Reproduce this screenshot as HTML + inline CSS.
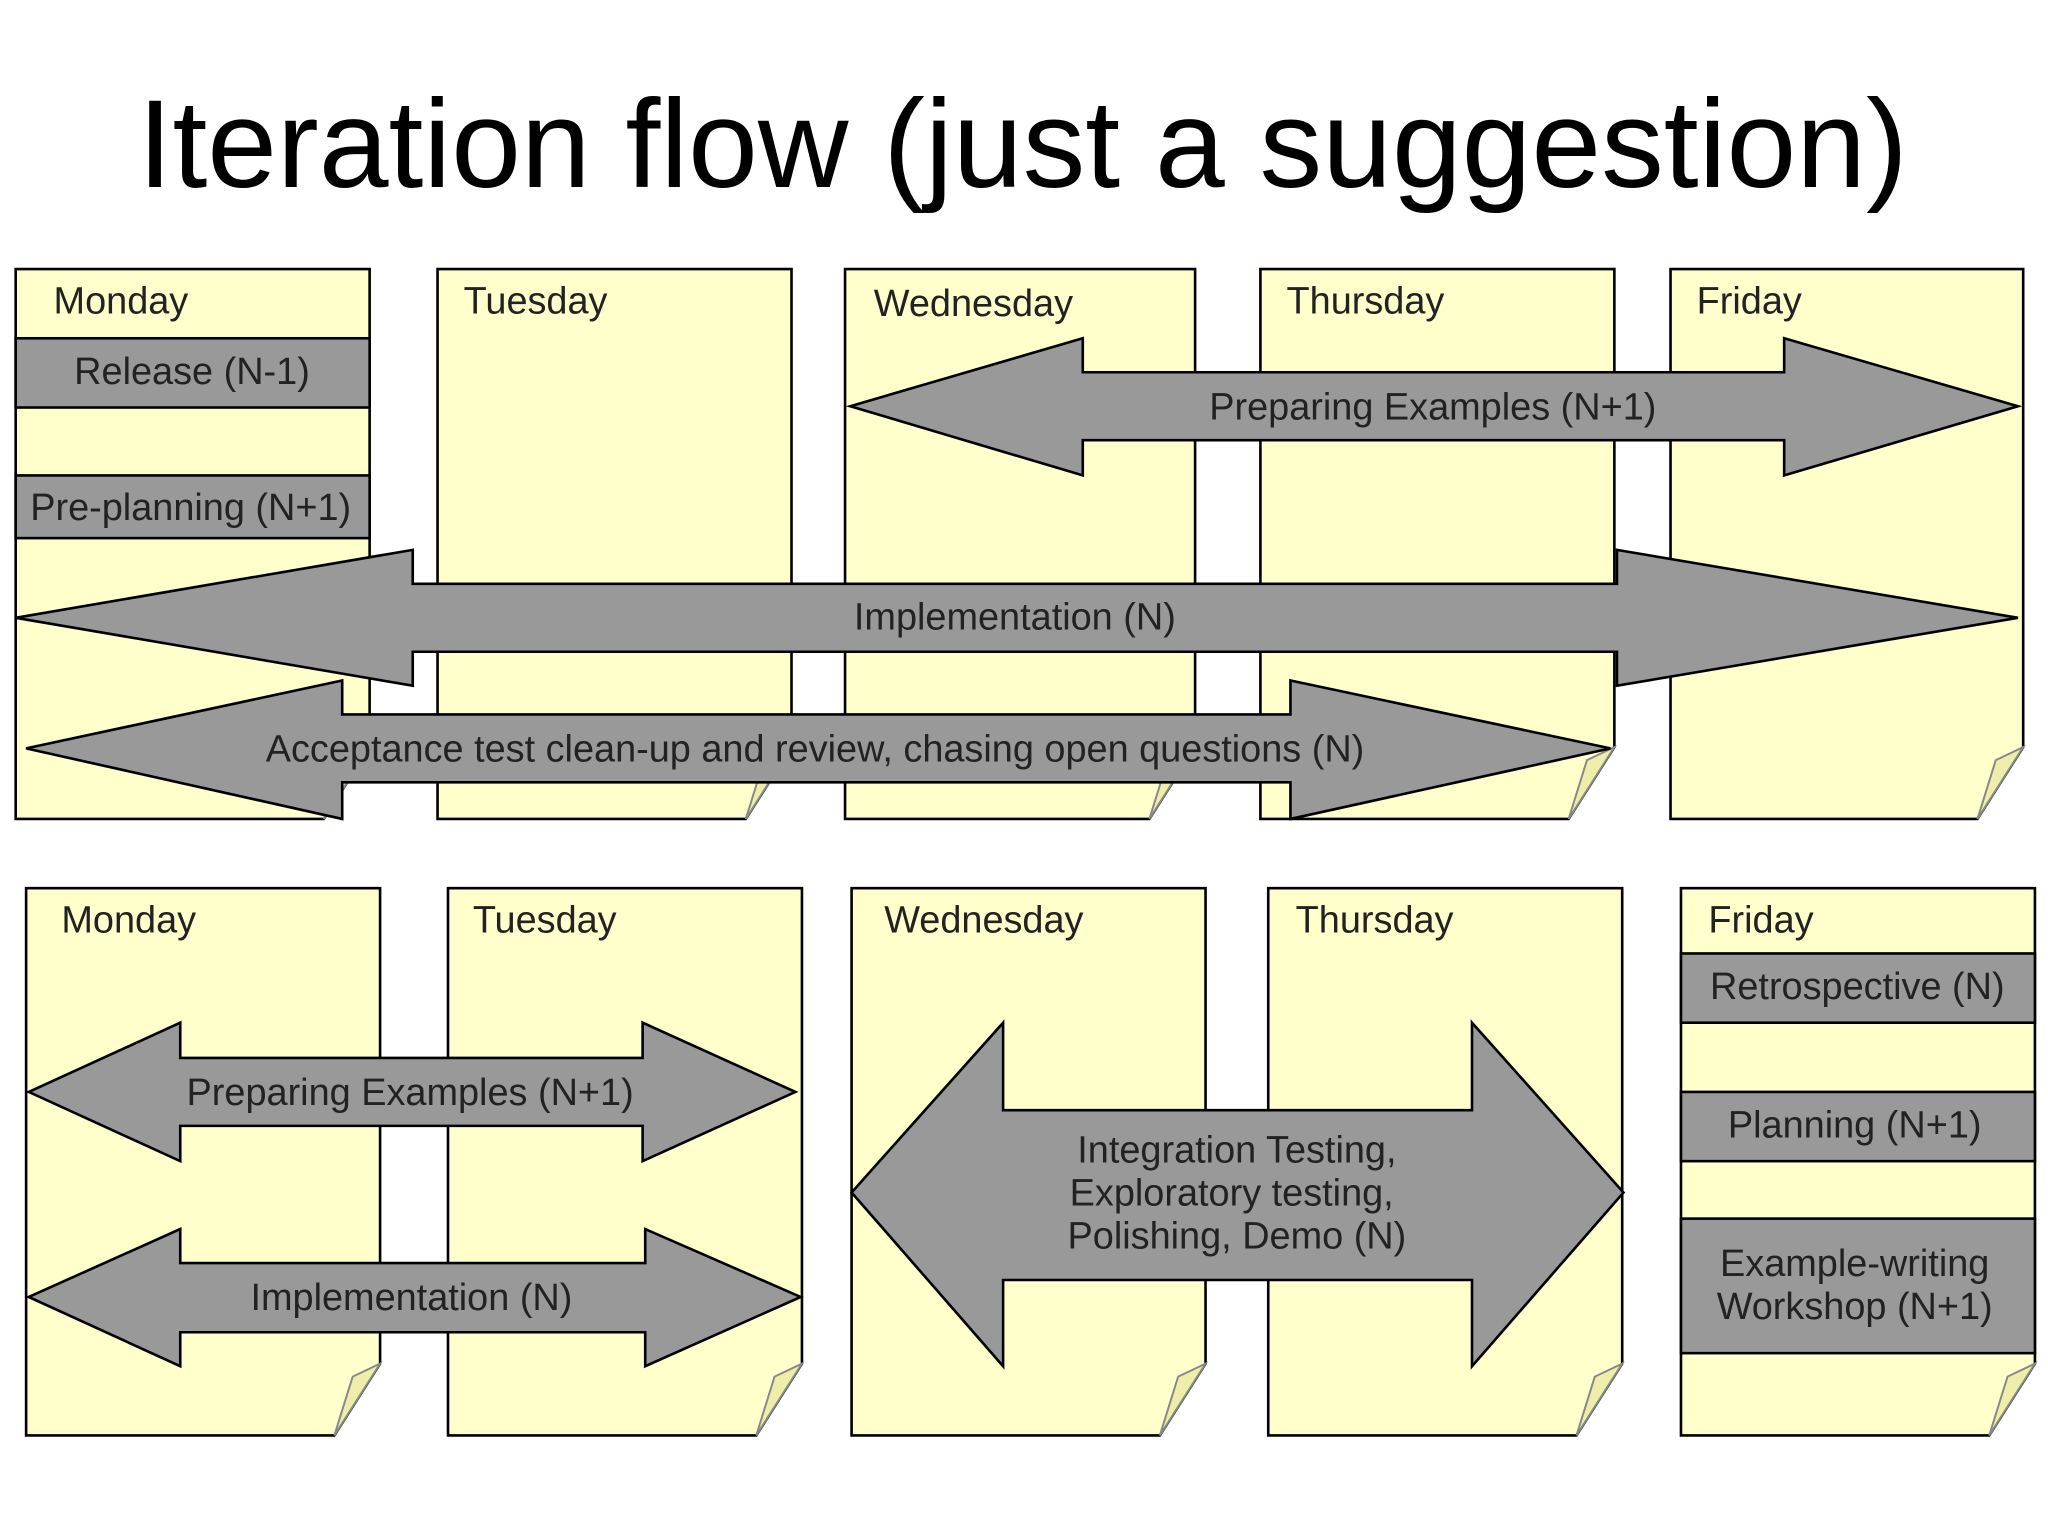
<!DOCTYPE html>
<html><head><meta charset="utf-8"><style>html,body{margin:0;padding:0;background:#fff}svg{display:block}</style></head>
<body>
<svg width="2048" height="1536" viewBox="0 0 1568 1176" xmlns="http://www.w3.org/2000/svg" font-family="Liberation Sans, sans-serif">
<rect width="1568" height="1176" fill="#fff"/>
<text x="783" y="143" font-size="96" text-anchor="middle" fill="#000">Iteration flow (just a suggestion)</text>
<g stroke="#000" stroke-width="2" fill="#ffffcc">
<path d="M12 206H283V572L248 627H12Z"/>
<path d="M335 206H606V572L571 627H335Z"/>
<path d="M647 206H915V572L880 627H647Z"/>
<path d="M965 206H1236V572L1201 627H965Z"/>
<path d="M1279 206H1549V572L1514 627H1279Z"/>
<path d="M20 680H291V1044L256 1099H20Z"/>
<path d="M343 680H614V1044L579 1099H343Z"/>
<path d="M652 680H923V1044L888 1099H652Z"/>
<path d="M971 680H1242V1044L1207 1099H971Z"/>
<path d="M1287 680H1558V1044L1523 1099H1287Z"/>
</g>
<g stroke="#888" stroke-width="1.5" fill="#eeeeaa">
<path d="M248 627L262 582L283 572Z"/><path d="M571 627L585 582L606 572Z"/><path d="M880 627L894 582L915 572Z"/><path d="M1201 627L1215 582L1236 572Z"/><path d="M1514 627L1528 582L1549 572Z"/>
<path d="M256 1099L270 1054L291 1044Z"/><path d="M579 1099L593 1054L614 1044Z"/><path d="M888 1099L902 1054L923 1044Z"/><path d="M1207 1099L1221 1054L1242 1044Z"/><path d="M1523 1099L1537 1054L1558 1044Z"/>
</g>
<g stroke="#000" stroke-width="2" fill="#999">
<rect x="12" y="259" width="271" height="53"/>
<rect x="12" y="364" width="271" height="48"/>
<rect x="1287" y="730" width="271" height="53"/>
<rect x="1287" y="836" width="271" height="53"/>
<rect x="1287" y="933" width="271" height="103"/>
<path d="M651 311L829 259V285H1366V259L1545 311L1366 364V337H829V364Z"/>
<path d="M12 473L316 421V447H1238V421L1545 473L1238 525V499H316V525Z"/>
<path d="M20 573L262 521V547H988V521L1233 573L988 627V599H262V627Z"/>
<path d="M22 836L138 783V810H492V783L609 836L492 889V862H138V889Z"/>
<path d="M22 993L138 941V967H494V941L613 993L494 1046V1020H138V1046Z"/>
<path d="M652 913L768 783V850H1127V783L1243 913L1127 1046V980H768V1046Z"/>
</g>
<g font-size="29" fill="#222">
<text x="41" y="240">Monday</text>
<text x="355" y="240">Tuesday</text>
<text x="669" y="242">Wednesday</text>
<text x="985" y="240">Thursday</text>
<text x="1299" y="240">Friday</text>
<text x="47" y="714">Monday</text>
<text x="362" y="714">Tuesday</text>
<text x="677" y="714">Wednesday</text>
<text x="992" y="714">Thursday</text>
<text x="1308" y="714">Friday</text>
<g text-anchor="middle">
<text x="147" y="294">Release (N-1)</text>
<text x="146" y="398">Pre-planning (N+1)</text>
<text x="1422" y="765">Retrospective (N)</text>
<text x="1420" y="871">Planning (N+1)</text>
<text x="1420" y="977">Example-writing</text>
<text x="1420" y="1010">Workshop (N+1)</text>
<text x="1097" y="321">Preparing Examples (N+1)</text>
<text x="777" y="482">Implementation (N)</text>
<text x="624" y="583">Acceptance test clean-up and review, chasing open questions (N)</text>
<text x="314" y="846">Preparing Examples (N+1)</text>
<text x="315" y="1003">Implementation (N)</text>
<text x="947" y="890">Integration Testing,</text>
<text x="943" y="923">Exploratory testing,</text>
<text x="947" y="956">Polishing, Demo (N)</text>
</g>
</g>
</svg>
</body></html>
